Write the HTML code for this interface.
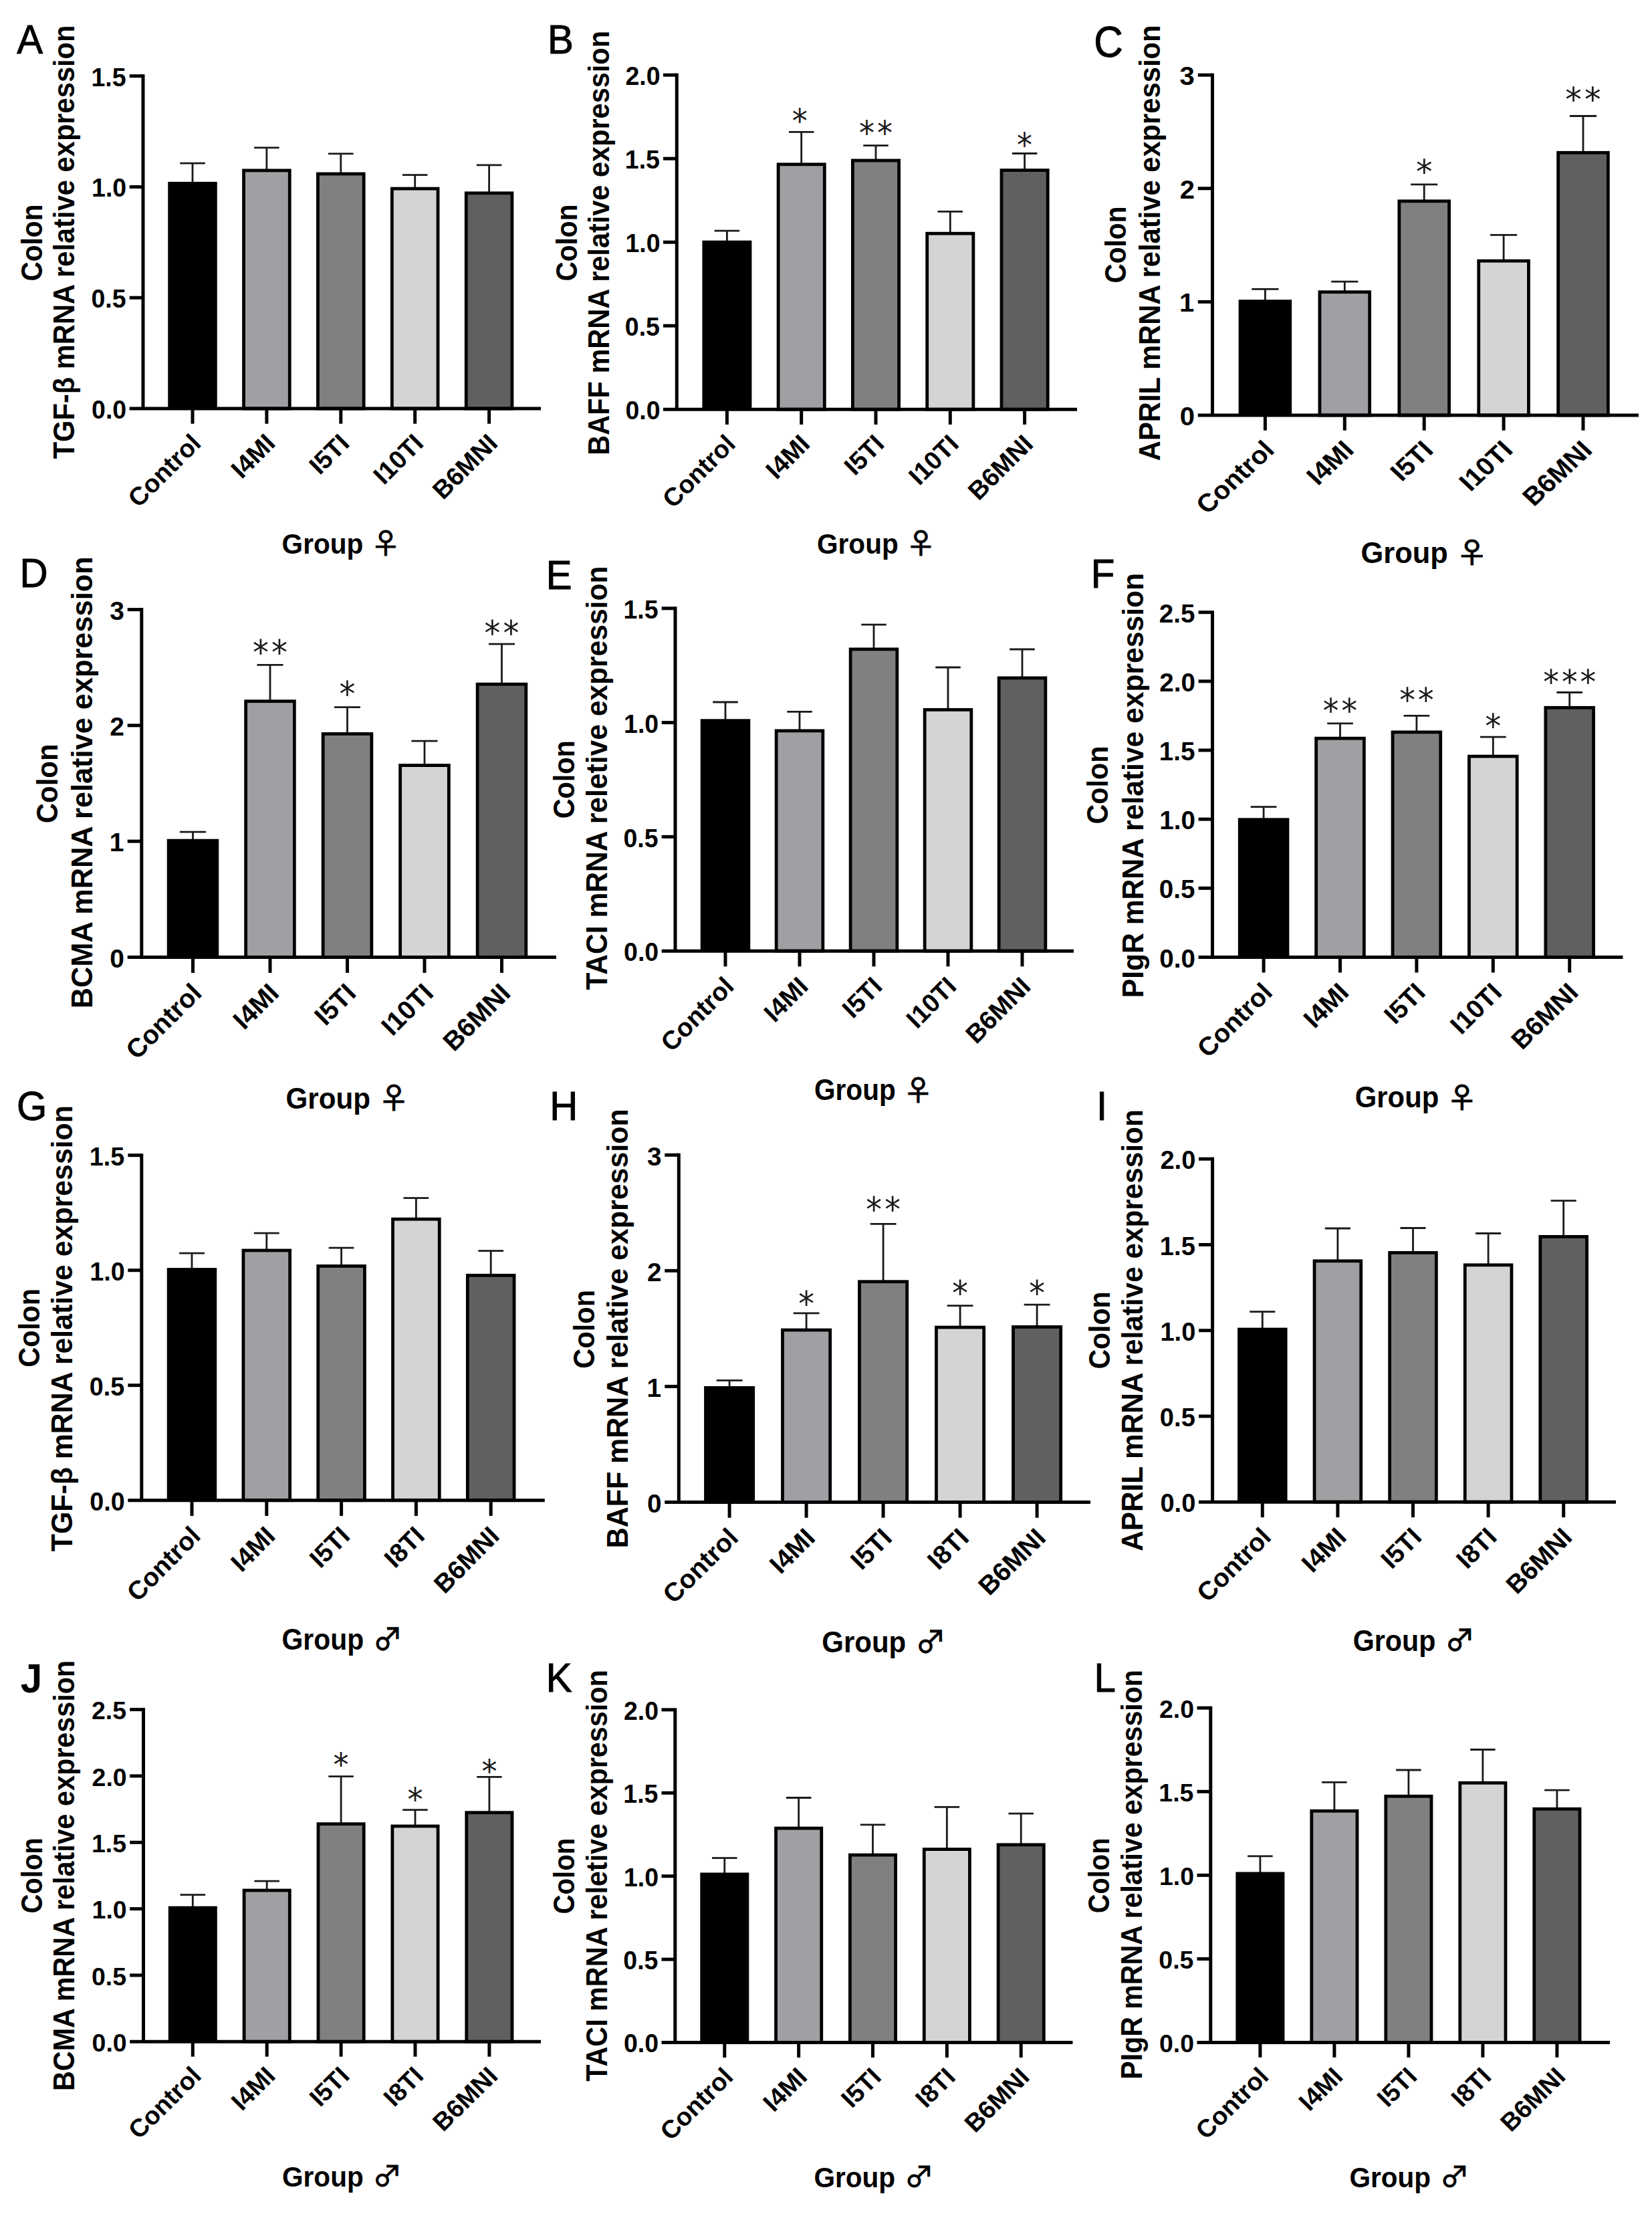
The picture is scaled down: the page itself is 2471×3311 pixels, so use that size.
<!DOCTYPE html>
<html><head><meta charset="utf-8"><title>Colon mRNA relative expression</title>
<style>
html,body{margin:0;padding:0;background:#fff}
svg{display:block}
text{font-family:"Liberation Sans",sans-serif;fill:#000}
.b{font-weight:700}
.lt{stroke:#000;stroke-width:1.6px}
.st{font-family:"DejaVu Sans",sans-serif;fill:#1a1a1a}
.sx{font-family:"Noto Sans CJK SC","Noto Sans CJK JP","DejaVu Sans",sans-serif;font-weight:400;stroke:#000;stroke-width:2.5px}
</style></head><body>
<svg width="2471" height="3311" viewBox="0 0 2471 3311">
<rect width="2471" height="3311" fill="#fff"/>
<g id="panel-A">
<path d="M288 273.9V244.2M269.25 244.2H306.75" stroke="#1a1a1a" stroke-width="2.8" fill="none"/>
<rect x="251.25" y="271.9" width="73.5" height="339.1" fill="#000"/>
<path d="M288 611V633.7" stroke="#000" stroke-width="5"/>
<text class="b" font-size="100" transform="matrix(0.2687 -0.2687 0.2687 0.2687 207.36 760.64)">Control</text>
<path d="M398.9 254.5V220.8M380.15 220.8H417.65" stroke="#1a1a1a" stroke-width="2.8" fill="none"/>
<rect x="364.55" y="254.9" width="68.7" height="356.1" fill="#a0a0a4" stroke="#000" stroke-width="4.8"/>
<path d="M398.9 611V633.7" stroke="#000" stroke-width="5"/>
<text class="b" font-size="100" transform="matrix(0.2687 -0.2687 0.2687 0.2687 361.52 717.38)">I4MI</text>
<path d="M509.8 259.6V229.8M491.05 229.8H528.55" stroke="#1a1a1a" stroke-width="2.8" fill="none"/>
<rect x="475.45" y="260" width="68.7" height="351" fill="#808080" stroke="#000" stroke-width="4.8"/>
<path d="M509.8 611V633.7" stroke="#000" stroke-width="5"/>
<text class="b" font-size="100" transform="matrix(0.2687 -0.2687 0.2687 0.2687 478.33 711.47)">I5TI</text>
<path d="M620.7 281.7V261.6M601.95 261.6H639.45" stroke="#1a1a1a" stroke-width="2.8" fill="none"/>
<rect x="586.35" y="282.1" width="68.7" height="328.9" fill="#d4d4d4" stroke="#000" stroke-width="4.8"/>
<path d="M620.7 611V633.7" stroke="#000" stroke-width="5"/>
<text class="b" font-size="100" transform="matrix(0.2687 -0.2687 0.2687 0.2687 574.32 726.38)">I10TI</text>
<path d="M731.6 288.4V246.9M712.85 246.9H750.35" stroke="#1a1a1a" stroke-width="2.8" fill="none"/>
<rect x="697.25" y="288.8" width="68.7" height="322.2" fill="#606060" stroke="#000" stroke-width="4.8"/>
<path d="M731.6 611V633.7" stroke="#000" stroke-width="5"/>
<text class="b" font-size="100" transform="matrix(0.2687 -0.2687 0.2687 0.2687 662.78 748.82)">B6MNI</text>
<path d="M214 111.2V611M193.7 611H809" stroke="#000" stroke-width="5" fill="none"/>
<path d="M193.7 113.7H214" stroke="#000" stroke-width="5"/>
<text class="b" font-size="100" transform="matrix(0.3750 0 0 0.3825 136.51 128.59)">1.5</text>
<path d="M193.7 279.47H214" stroke="#000" stroke-width="5"/>
<text class="b" font-size="100" transform="matrix(0.3750 0 0 0.3825 137.07 294.35)">1.0</text>
<path d="M193.7 445.23H214" stroke="#000" stroke-width="5"/>
<text class="b" font-size="100" transform="matrix(0.3750 0 0 0.3825 136.51 460.12)">0.5</text>
<text class="b" font-size="100" transform="matrix(0.3750 0 0 0.3825 137.07 625.89)">0.0</text>
<text class="b" font-size="100" transform="matrix(0 -0.4059 0.4372 0 63.3 420.52)">Colon</text>
<text class="b" font-size="100" transform="matrix(0 -0.4167 0.4372 0 111.4 686.32)">TGF-β mRNA relative expression</text>
<text class="b" font-size="100" transform="matrix(0.4060 0 0 0.4344 421.58 828.1)">Group</text>
<text class="sx" font-size="100" transform="matrix(0.4531 0 0 0.4157 554.34 828.3)">♀</text>
<text class="lt" font-size="100" transform="matrix(0.5828 0 0 0.6200 25.3 80.1)">A</text>
</g>
<g id="panel-B">
<path d="M1087.4 361.7V345.2M1068.65 345.2H1106.15" stroke="#1a1a1a" stroke-width="2.8" fill="none"/>
<rect x="1050.4" y="359.7" width="74" height="252.5" fill="#000"/>
<path d="M1087.4 612.2V634.9" stroke="#000" stroke-width="5"/>
<text class="b" font-size="100" transform="matrix(0.2687 -0.2687 0.2687 0.2687 1006.76 761.84)">Control</text>
<path d="M1198.7 245.4V197.3M1179.95 197.3H1217.45" stroke="#1a1a1a" stroke-width="2.8" fill="none"/>
<rect x="1164.1" y="245.8" width="69.2" height="366.4" fill="#a0a0a4" stroke="#000" stroke-width="4.8"/>
<path d="M1198.7 612.2V634.9" stroke="#000" stroke-width="5"/>
<text class="b" font-size="100" transform="matrix(0.2687 -0.2687 0.2687 0.2687 1161.32 718.58)">I4MI</text>
<path d="M1310 239.6V217.6M1291.25 217.6H1328.75" stroke="#1a1a1a" stroke-width="2.8" fill="none"/>
<rect x="1275.4" y="240" width="69.2" height="372.2" fill="#808080" stroke="#000" stroke-width="4.8"/>
<path d="M1310 612.2V634.9" stroke="#000" stroke-width="5"/>
<text class="b" font-size="100" transform="matrix(0.2687 -0.2687 0.2687 0.2687 1278.53 712.67)">I5TI</text>
<path d="M1421.3 348.8V316.3M1402.55 316.3H1440.05" stroke="#1a1a1a" stroke-width="2.8" fill="none"/>
<rect x="1386.7" y="349.2" width="69.2" height="263" fill="#d4d4d4" stroke="#000" stroke-width="4.8"/>
<path d="M1421.3 612.2V634.9" stroke="#000" stroke-width="5"/>
<text class="b" font-size="100" transform="matrix(0.2687 -0.2687 0.2687 0.2687 1374.92 727.58)">I10TI</text>
<path d="M1532.6 254.2V229.5M1513.85 229.5H1551.35" stroke="#1a1a1a" stroke-width="2.8" fill="none"/>
<rect x="1498" y="254.6" width="69.2" height="357.6" fill="#606060" stroke="#000" stroke-width="4.8"/>
<path d="M1532.6 612.2V634.9" stroke="#000" stroke-width="5"/>
<text class="b" font-size="100" transform="matrix(0.2687 -0.2687 0.2687 0.2687 1463.78 750.02)">B6MNI</text>
<path d="M1012.3 109.7V612.2M992 612.2H1611" stroke="#000" stroke-width="5" fill="none"/>
<path d="M992 112.2H1012.3" stroke="#000" stroke-width="5"/>
<text class="b" font-size="100" transform="matrix(0.3750 0 0 0.3825 935.38 127.09)">2.0</text>
<path d="M992 237.2H1012.3" stroke="#000" stroke-width="5"/>
<text class="b" font-size="100" transform="matrix(0.3750 0 0 0.3825 934.81 252.09)">1.5</text>
<path d="M992 362.2H1012.3" stroke="#000" stroke-width="5"/>
<text class="b" font-size="100" transform="matrix(0.3750 0 0 0.3825 935.38 377.09)">1.0</text>
<path d="M992 487.2H1012.3" stroke="#000" stroke-width="5"/>
<text class="b" font-size="100" transform="matrix(0.3750 0 0 0.3825 934.81 502.09)">0.5</text>
<text class="b" font-size="100" transform="matrix(0.3750 0 0 0.3825 935.38 627.09)">0.0</text>
<text class="st" font-size="100" transform="matrix(0.4591 0 0 0.4957 1184.72 198.38)">*</text>
<text class="st" font-size="100" transform="matrix(0.4591 0 0 0.4957 1285.07 216.18)">*</text>
<text class="st" font-size="100" transform="matrix(0.4591 0 0 0.4957 1311.97 216.18)">*</text>
<text class="st" font-size="100" transform="matrix(0.4591 0 0 0.4957 1521.12 233.78)">*</text>
<text class="b" font-size="100" transform="matrix(0 -0.4059 0.4372 0 863.3 420.52)">Colon</text>
<text class="b" font-size="100" transform="matrix(0 -0.4149 0.4372 0 911.4 680.7)">BAFF mRNA relative expression</text>
<text class="b" font-size="100" transform="matrix(0.4060 0 0 0.4344 1221.98 828.1)">Group</text>
<text class="sx" font-size="100" transform="matrix(0.4531 0 0 0.4157 1354.74 828.3)">♀</text>
<text class="lt" font-size="100" transform="matrix(0.5828 0 0 0.6200 819.04 80.1)">B</text>
</g>
<g id="panel-C">
<path d="M1892.4 450.2V432.3M1872.34 432.3H1912.46" stroke="#1a1a1a" stroke-width="2.8" fill="none"/>
<rect x="1852.65" y="448.2" width="79.5" height="172.8" fill="#000"/>
<path d="M1892.4 621V643.7" stroke="#000" stroke-width="5"/>
<text class="b" font-size="100" transform="matrix(0.2875 -0.2687 0.2875 0.2687 1806.11 770.64)">Control</text>
<path d="M2011.3 436.3V421.1M1991.24 421.1H2031.36" stroke="#1a1a1a" stroke-width="2.8" fill="none"/>
<rect x="1973.95" y="436.7" width="74.7" height="184.3" fill="#a0a0a4" stroke="#000" stroke-width="4.8"/>
<path d="M2011.3 621V643.7" stroke="#000" stroke-width="5"/>
<text class="b" font-size="100" transform="matrix(0.2875 -0.2687 0.2875 0.2687 1971.3 727.38)">I4MI</text>
<path d="M2130.2 300.4V275.9M2110.14 275.9H2150.26" stroke="#1a1a1a" stroke-width="2.8" fill="none"/>
<rect x="2092.85" y="300.8" width="74.7" height="320.2" fill="#808080" stroke="#000" stroke-width="4.8"/>
<path d="M2130.2 621V643.7" stroke="#000" stroke-width="5"/>
<text class="b" font-size="100" transform="matrix(0.2875 -0.2687 0.2875 0.2687 2096.53 721.47)">I5TI</text>
<path d="M2249.1 389.8V351.4M2229.04 351.4H2269.16" stroke="#1a1a1a" stroke-width="2.8" fill="none"/>
<rect x="2211.75" y="390.2" width="74.7" height="230.8" fill="#d4d4d4" stroke="#000" stroke-width="4.8"/>
<path d="M2249.1 621V643.7" stroke="#000" stroke-width="5"/>
<text class="b" font-size="100" transform="matrix(0.2875 -0.2687 0.2875 0.2687 2199.47 736.38)">I10TI</text>
<path d="M2368 227.9V173.5M2347.94 173.5H2388.06" stroke="#1a1a1a" stroke-width="2.8" fill="none"/>
<rect x="2330.65" y="228.3" width="74.7" height="392.7" fill="#606060" stroke="#000" stroke-width="4.8"/>
<path d="M2368 621V643.7" stroke="#000" stroke-width="5"/>
<text class="b" font-size="100" transform="matrix(0.2875 -0.2687 0.2875 0.2687 2294.36 758.82)">B6MNI</text>
<path d="M1813.5 109.7V621M1791.78 621H2451" stroke="#000" stroke-width="5" fill="none"/>
<path d="M1791.78 112.2H1813.5" stroke="#000" stroke-width="5"/>
<text class="b" font-size="100" transform="matrix(0.4012 0 0 0.3825 1764.49 127.09)">3</text>
<path d="M1791.78 281.8H1813.5" stroke="#000" stroke-width="5"/>
<text class="b" font-size="100" transform="matrix(0.4012 0 0 0.3825 1764.69 296.69)">2</text>
<path d="M1791.78 451.4H1813.5" stroke="#000" stroke-width="5"/>
<text class="b" font-size="100" transform="matrix(0.4012 0 0 0.3825 1764.09 466.29)">1</text>
<text class="b" font-size="100" transform="matrix(0.4012 0 0 0.3825 1764.69 635.89)">0</text>
<text class="st" font-size="100" transform="matrix(0.4912 0 0 0.4957 2117.92 274.28)">*</text>
<text class="st" font-size="100" transform="matrix(0.4912 0 0 0.4957 2341.33 166.28)">*</text>
<text class="st" font-size="100" transform="matrix(0.4912 0 0 0.4957 2370.11 166.28)">*</text>
<text class="b" font-size="100" transform="matrix(0 -0.4059 0.4483 0 1683.5 423.52)">Colon</text>
<text class="b" font-size="100" transform="matrix(0 -0.4175 0.4483 0 1735.1 689.14)">APRIL mRNA relative expression</text>
<text class="b" font-size="100" transform="matrix(0.4344 0 0 0.4344 2035.46 842.1)">Group</text>
<text class="sx" font-size="100" transform="matrix(0.4848 0 0 0.4157 2177.52 842.3)">♀</text>
<text class="lt" font-size="100" transform="matrix(0.6016 0 0 0.6400 1636.19 84.8)">C</text>
</g>
<g id="panel-D">
<path d="M288.5 1256.7V1244.2M269 1244.2H308" stroke="#1a1a1a" stroke-width="2.8" fill="none"/>
<rect x="249.75" y="1254.7" width="77.5" height="176.7" fill="#000"/>
<path d="M288.5 1431.4V1454.89" stroke="#000" stroke-width="5"/>
<text class="b" font-size="100" transform="matrix(0.2794 -0.2781 0.2794 0.2781 204.63 1586.28)">Control</text>
<path d="M404 1048.3V994.4M384.5 994.4H423.5" stroke="#1a1a1a" stroke-width="2.8" fill="none"/>
<rect x="367.65" y="1048.7" width="72.7" height="382.7" fill="#a0a0a4" stroke="#000" stroke-width="4.8"/>
<path d="M404 1431.4V1454.89" stroke="#000" stroke-width="5"/>
<text class="b" font-size="100" transform="matrix(0.2794 -0.2781 0.2794 0.2781 365.12 1541.5)">I4MI</text>
<path d="M519.5 1097.1V1057.6M500 1057.6H539" stroke="#1a1a1a" stroke-width="2.8" fill="none"/>
<rect x="483.15" y="1097.5" width="72.7" height="333.9" fill="#808080" stroke="#000" stroke-width="4.8"/>
<path d="M519.5 1431.4V1454.89" stroke="#000" stroke-width="5"/>
<text class="b" font-size="100" transform="matrix(0.2794 -0.2781 0.2794 0.2781 486.77 1535.39)">I5TI</text>
<path d="M635 1144.2V1108.1M615.5 1108.1H654.5" stroke="#1a1a1a" stroke-width="2.8" fill="none"/>
<rect x="598.65" y="1144.6" width="72.7" height="286.8" fill="#d4d4d4" stroke="#000" stroke-width="4.8"/>
<path d="M635 1431.4V1454.89" stroke="#000" stroke-width="5"/>
<text class="b" font-size="100" transform="matrix(0.2794 -0.2781 0.2794 0.2781 586.76 1550.82)">I10TI</text>
<path d="M750.5 1022.8V963.1M731 963.1H770" stroke="#1a1a1a" stroke-width="2.8" fill="none"/>
<rect x="714.15" y="1023.2" width="72.7" height="408.2" fill="#606060" stroke="#000" stroke-width="4.8"/>
<path d="M750.5 1431.4V1454.89" stroke="#000" stroke-width="5"/>
<text class="b" font-size="100" transform="matrix(0.2794 -0.2781 0.2794 0.2781 678.93 1574.04)">B6MNI</text>
<path d="M211.8 909.1V1431.4M190.69 1431.4H832" stroke="#000" stroke-width="5" fill="none"/>
<path d="M190.69 911.6H211.8" stroke="#000" stroke-width="5"/>
<text class="b" font-size="100" transform="matrix(0.3900 0 0 0.3959 164.17 926.96)">3</text>
<path d="M190.69 1084.87H211.8" stroke="#000" stroke-width="5"/>
<text class="b" font-size="100" transform="matrix(0.3900 0 0 0.3959 164.36 1100.22)">2</text>
<path d="M190.69 1258.13H211.8" stroke="#000" stroke-width="5"/>
<text class="b" font-size="100" transform="matrix(0.3900 0 0 0.3959 163.78 1273.49)">1</text>
<text class="b" font-size="100" transform="matrix(0.3900 0 0 0.3959 164.36 1446.76)">0</text>
<text class="st" font-size="100" transform="matrix(0.4775 0 0 0.5130 378.08 994.36)">*</text>
<text class="st" font-size="100" transform="matrix(0.4775 0 0 0.5130 406.05 994.36)">*</text>
<text class="st" font-size="100" transform="matrix(0.4775 0 0 0.5130 507.56 1055.76)">*</text>
<text class="st" font-size="100" transform="matrix(0.4775 0 0 0.5130 724.58 964.86)">*</text>
<text class="st" font-size="100" transform="matrix(0.4775 0 0 0.5130 752.55 964.86)">*</text>
<text class="b" font-size="100" transform="matrix(0 -0.4201 0.4372 0 86.1 1231.32)">Colon</text>
<text class="b" font-size="100" transform="matrix(0 -0.4335 0.4372 0 138.4 1508.22)">BCMA mRNA relative expression</text>
<text class="b" font-size="100" transform="matrix(0.4222 0 0 0.4496 427.41 1657.7)">Group</text>
<text class="sx" font-size="100" transform="matrix(0.4713 0 0 0.4303 565.49 1657.9)">♀</text>
<text class="lt" font-size="100" transform="matrix(0.5828 0 0 0.6200 29.54 877.5)">D</text>
</g>
<g id="panel-E">
<path d="M1085 1077.3V1050M1066.25 1050H1103.75" stroke="#1a1a1a" stroke-width="2.8" fill="none"/>
<rect x="1047.75" y="1075.3" width="74.5" height="346.9" fill="#000"/>
<path d="M1085 1422.2V1445.35" stroke="#000" stroke-width="5"/>
<text class="b" font-size="100" transform="matrix(0.2687 -0.2741 0.2687 0.2741 1004.36 1574.83)">Control</text>
<path d="M1196 1092.5V1064.4M1177.25 1064.4H1214.75" stroke="#1a1a1a" stroke-width="2.8" fill="none"/>
<rect x="1161.15" y="1092.9" width="69.7" height="329.3" fill="#a0a0a4" stroke="#000" stroke-width="4.8"/>
<path d="M1196 1422.2V1445.35" stroke="#000" stroke-width="5"/>
<text class="b" font-size="100" transform="matrix(0.2687 -0.2741 0.2687 0.2741 1158.62 1530.71)">I4MI</text>
<path d="M1307 970.5V934.2M1288.25 934.2H1325.75" stroke="#1a1a1a" stroke-width="2.8" fill="none"/>
<rect x="1272.15" y="970.9" width="69.7" height="451.3" fill="#808080" stroke="#000" stroke-width="4.8"/>
<path d="M1307 1422.2V1445.35" stroke="#000" stroke-width="5"/>
<text class="b" font-size="100" transform="matrix(0.2687 -0.2741 0.2687 0.2741 1275.53 1524.68)">I5TI</text>
<path d="M1418 1061V998M1399.25 998H1436.75" stroke="#1a1a1a" stroke-width="2.8" fill="none"/>
<rect x="1383.15" y="1061.4" width="69.7" height="360.8" fill="#d4d4d4" stroke="#000" stroke-width="4.8"/>
<path d="M1418 1422.2V1445.35" stroke="#000" stroke-width="5"/>
<text class="b" font-size="100" transform="matrix(0.2687 -0.2741 0.2687 0.2741 1371.62 1539.89)">I10TI</text>
<path d="M1529 1013.5V971M1510.25 971H1547.75" stroke="#1a1a1a" stroke-width="2.8" fill="none"/>
<rect x="1494.15" y="1013.9" width="69.7" height="408.3" fill="#606060" stroke="#000" stroke-width="4.8"/>
<path d="M1529 1422.2V1445.35" stroke="#000" stroke-width="5"/>
<text class="b" font-size="100" transform="matrix(0.2687 -0.2741 0.2687 0.2741 1460.18 1562.78)">B6MNI</text>
<path d="M1010 907.3V1422.2M989.7 1422.2H1606" stroke="#000" stroke-width="5" fill="none"/>
<path d="M989.7 909.8H1010" stroke="#000" stroke-width="5"/>
<text class="b" font-size="100" transform="matrix(0.3750 0 0 0.3901 932.51 924.96)">1.5</text>
<path d="M989.7 1080.6H1010" stroke="#000" stroke-width="5"/>
<text class="b" font-size="100" transform="matrix(0.3750 0 0 0.3901 933.08 1095.76)">1.0</text>
<path d="M989.7 1251.4H1010" stroke="#000" stroke-width="5"/>
<text class="b" font-size="100" transform="matrix(0.3750 0 0 0.3901 932.51 1266.56)">0.5</text>
<text class="b" font-size="100" transform="matrix(0.3750 0 0 0.3901 933.08 1437.36)">0.0</text>
<text class="b" font-size="100" transform="matrix(0 -0.4140 0.4372 0 858.5 1224.36)">Colon</text>
<text class="b" font-size="100" transform="matrix(0 -0.4258 0.4372 0 908.2 1480.53)">TACI mRNA reletive expression</text>
<text class="b" font-size="100" transform="matrix(0.4060 0 0 0.4431 1217.98 1645.4)">Group</text>
<text class="sx" font-size="100" transform="matrix(0.4531 0 0 0.4240 1350.74 1645.6)">♀</text>
<text class="lt" font-size="100" transform="matrix(0.5828 0 0 0.6200 816.84 880.6)">E</text>
</g>
<g id="panel-F">
<path d="M1890.1 1225.3V1206.6M1870.79 1206.6H1909.41" stroke="#1a1a1a" stroke-width="2.8" fill="none"/>
<rect x="1851.85" y="1223.3" width="76.5" height="208.1" fill="#000"/>
<path d="M1890.1 1431.4V1454.46" stroke="#000" stroke-width="5"/>
<text class="b" font-size="100" transform="matrix(0.2768 -0.2730 0.2768 0.2730 1807.04 1583.44)">Control</text>
<path d="M2004.5 1103.8V1081.8M1985.19 1081.8H2023.81" stroke="#1a1a1a" stroke-width="2.8" fill="none"/>
<rect x="1968.65" y="1104.2" width="71.7" height="327.2" fill="#a0a0a4" stroke="#000" stroke-width="4.8"/>
<path d="M2004.5 1431.4V1454.46" stroke="#000" stroke-width="5"/>
<text class="b" font-size="100" transform="matrix(0.2768 -0.2730 0.2768 0.2730 1966 1539.48)">I4MI</text>
<path d="M2118.9 1094.5V1070.4M2099.59 1070.4H2138.21" stroke="#1a1a1a" stroke-width="2.8" fill="none"/>
<rect x="2083.05" y="1094.9" width="71.7" height="336.5" fill="#808080" stroke="#000" stroke-width="4.8"/>
<path d="M2118.9 1431.4V1454.46" stroke="#000" stroke-width="5"/>
<text class="b" font-size="100" transform="matrix(0.2768 -0.2730 0.2768 0.2730 2086.49 1533.48)">I5TI</text>
<path d="M2233.3 1130.7V1102.2M2213.99 1102.2H2252.61" stroke="#1a1a1a" stroke-width="2.8" fill="none"/>
<rect x="2197.45" y="1131.1" width="71.7" height="300.3" fill="#d4d4d4" stroke="#000" stroke-width="4.8"/>
<path d="M2233.3 1431.4V1454.46" stroke="#000" stroke-width="5"/>
<text class="b" font-size="100" transform="matrix(0.2768 -0.2730 0.2768 0.2730 2185.53 1548.63)">I10TI</text>
<path d="M2347.7 1057.9V1035.5M2328.39 1035.5H2367.01" stroke="#1a1a1a" stroke-width="2.8" fill="none"/>
<rect x="2311.85" y="1058.3" width="71.7" height="373.1" fill="#606060" stroke="#000" stroke-width="4.8"/>
<path d="M2347.7 1431.4V1454.46" stroke="#000" stroke-width="5"/>
<text class="b" font-size="100" transform="matrix(0.2768 -0.2730 0.2768 0.2730 2276.82 1571.42)">B6MNI</text>
<path d="M1813.5 913.2V1431.4M1792.59 1431.4H2427.5" stroke="#000" stroke-width="5" fill="none"/>
<path d="M1792.59 915.7H1813.5" stroke="#000" stroke-width="5"/>
<text class="b" font-size="100" transform="matrix(0.3862 0 0 0.3886 1733.69 930.8)">2.5</text>
<path d="M1792.59 1018.84H1813.5" stroke="#000" stroke-width="5"/>
<text class="b" font-size="100" transform="matrix(0.3862 0 0 0.3886 1734.27 1033.94)">2.0</text>
<path d="M1792.59 1121.98H1813.5" stroke="#000" stroke-width="5"/>
<text class="b" font-size="100" transform="matrix(0.3862 0 0 0.3886 1733.69 1137.08)">1.5</text>
<path d="M1792.59 1225.12H1813.5" stroke="#000" stroke-width="5"/>
<text class="b" font-size="100" transform="matrix(0.3862 0 0 0.3886 1734.27 1240.22)">1.0</text>
<path d="M1792.59 1328.26H1813.5" stroke="#000" stroke-width="5"/>
<text class="b" font-size="100" transform="matrix(0.3862 0 0 0.3886 1733.69 1343.36)">0.5</text>
<text class="b" font-size="100" transform="matrix(0.3862 0 0 0.3886 1734.27 1446.5)">0.0</text>
<text class="st" font-size="100" transform="matrix(0.4729 0 0 0.5036 1978.82 1080.48)">*</text>
<text class="st" font-size="100" transform="matrix(0.4729 0 0 0.5036 2006.53 1080.48)">*</text>
<text class="st" font-size="100" transform="matrix(0.4729 0 0 0.5036 2093.22 1064.18)">*</text>
<text class="st" font-size="100" transform="matrix(0.4729 0 0 0.5036 2120.93 1064.18)">*</text>
<text class="st" font-size="100" transform="matrix(0.4729 0 0 0.5036 2221.48 1103.38)">*</text>
<text class="st" font-size="100" transform="matrix(0.4729 0 0 0.5036 2308.17 1037.28)">*</text>
<text class="st" font-size="100" transform="matrix(0.4729 0 0 0.5036 2335.88 1037.28)">*</text>
<text class="st" font-size="100" transform="matrix(0.4729 0 0 0.5036 2363.59 1037.28)">*</text>
<text class="b" font-size="100" transform="matrix(0 -0.4124 0.4372 0 1657 1232.44)">Colon</text>
<text class="b" font-size="100" transform="matrix(0 -0.4260 0.4372 0 1709.7 1492.17)">PIgR mRNA relative expression</text>
<text class="b" font-size="100" transform="matrix(0.4182 0 0 0.4414 2026.83 1656.3)">Group</text>
<text class="sx" font-size="100" transform="matrix(0.4667 0 0 0.4224 2163.58 1656.5)">♀</text>
<text class="lt" font-size="100" transform="matrix(0.5828 0 0 0.6200 1631.84 879)">F</text>
</g>
<g id="panel-G">
<path d="M287 1898.1V1874.2M268.12 1874.2H305.88" stroke="#1a1a1a" stroke-width="2.8" fill="none"/>
<rect x="249.75" y="1896.1" width="74.5" height="347.6" fill="#000"/>
<path d="M287 2243.7V2266.99" stroke="#000" stroke-width="5"/>
<text class="b" font-size="100" transform="matrix(0.2706 -0.2757 0.2706 0.2757 205.79 2397.23)">Control</text>
<path d="M398.8 1869.6V1844.1M379.92 1844.1H417.68" stroke="#1a1a1a" stroke-width="2.8" fill="none"/>
<rect x="363.95" y="1870" width="69.7" height="373.7" fill="#a0a0a4" stroke="#000" stroke-width="4.8"/>
<path d="M398.8 2243.7V2266.99" stroke="#000" stroke-width="5"/>
<text class="b" font-size="100" transform="matrix(0.2706 -0.2757 0.2706 0.2757 361.16 2352.85)">I4MI</text>
<path d="M510.6 1893V1866.1M491.72 1866.1H529.48" stroke="#1a1a1a" stroke-width="2.8" fill="none"/>
<rect x="475.75" y="1893.4" width="69.7" height="350.3" fill="#808080" stroke="#000" stroke-width="4.8"/>
<path d="M510.6 2243.7V2266.99" stroke="#000" stroke-width="5"/>
<text class="b" font-size="100" transform="matrix(0.2706 -0.2757 0.2706 0.2757 478.91 2346.78)">I5TI</text>
<path d="M622.4 1822.8V1791.6M603.52 1791.6H641.28" stroke="#1a1a1a" stroke-width="2.8" fill="none"/>
<rect x="587.55" y="1823.2" width="69.7" height="420.5" fill="#d4d4d4" stroke="#000" stroke-width="4.8"/>
<path d="M622.4 2243.7V2266.99" stroke="#000" stroke-width="5"/>
<text class="b" font-size="100" transform="matrix(0.2706 -0.2757 0.2706 0.2757 590.71 2346.78)">I8TI</text>
<path d="M734.2 1906.9V1870.6M715.32 1870.6H753.08" stroke="#1a1a1a" stroke-width="2.8" fill="none"/>
<rect x="699.35" y="1907.3" width="69.7" height="336.4" fill="#606060" stroke="#000" stroke-width="4.8"/>
<path d="M734.2 2243.7V2266.99" stroke="#000" stroke-width="5"/>
<text class="b" font-size="100" transform="matrix(0.2706 -0.2757 0.2706 0.2757 664.9 2385.1)">B6MNI</text>
<path d="M211.8 1725.2V2243.7M191.36 2243.7H814.8" stroke="#000" stroke-width="5" fill="none"/>
<path d="M191.36 1727.7H211.8" stroke="#000" stroke-width="5"/>
<text class="b" font-size="100" transform="matrix(0.3776 0 0 0.3924 133.77 1742.94)">1.5</text>
<path d="M191.36 1899.7H211.8" stroke="#000" stroke-width="5"/>
<text class="b" font-size="100" transform="matrix(0.3776 0 0 0.3924 134.34 1914.94)">1.0</text>
<path d="M191.36 2071.7H211.8" stroke="#000" stroke-width="5"/>
<text class="b" font-size="100" transform="matrix(0.3776 0 0 0.3924 133.77 2086.94)">0.5</text>
<text class="b" font-size="100" transform="matrix(0.3776 0 0 0.3924 134.34 2258.94)">0.0</text>
<text class="b" font-size="100" transform="matrix(0 -0.4164 0.4372 0 58.5 2044.71)">Colon</text>
<text class="b" font-size="100" transform="matrix(0 -0.4285 0.4372 0 107.6 2320.23)">TGF-β mRNA relative expression</text>
<text class="b" font-size="100" transform="matrix(0.4088 0 0 0.4457 421.56 2467.4)">Group</text>
<text class="sx" font-size="100" transform="matrix(0.4391 0 0 0.4528 558.02 2467.89)">♂</text>
<text class="lt" font-size="100" transform="matrix(0.5828 0 0 0.6200 24.89 1674.5)">G</text>
</g>
<g id="panel-H">
<path d="M1091.1 2075V2064.4M1071.69 2064.4H1110.51" stroke="#1a1a1a" stroke-width="2.8" fill="none"/>
<rect x="1053.1" y="2073" width="76" height="173.5" fill="#000"/>
<path d="M1091.1 2246.5V2269.77" stroke="#000" stroke-width="5"/>
<text class="b" font-size="100" transform="matrix(0.2781 -0.2754 0.2781 0.2754 1007.64 2399.88)">Control</text>
<path d="M1206.1 1988.6V1963.8M1186.69 1963.8H1225.51" stroke="#1a1a1a" stroke-width="2.8" fill="none"/>
<rect x="1170.5" y="1989" width="71.2" height="257.5" fill="#a0a0a4" stroke="#000" stroke-width="4.8"/>
<path d="M1206.1 2246.5V2269.77" stroke="#000" stroke-width="5"/>
<text class="b" font-size="100" transform="matrix(0.2781 -0.2754 0.2781 0.2754 1167.41 2355.54)">I4MI</text>
<path d="M1321.1 1916.3V1830.4M1301.69 1830.4H1340.51" stroke="#1a1a1a" stroke-width="2.8" fill="none"/>
<rect x="1285.5" y="1916.7" width="71.2" height="329.8" fill="#808080" stroke="#000" stroke-width="4.8"/>
<path d="M1321.1 2246.5V2269.77" stroke="#000" stroke-width="5"/>
<text class="b" font-size="100" transform="matrix(0.2781 -0.2754 0.2781 0.2754 1288.53 2349.48)">I5TI</text>
<path d="M1436.1 1984.6V1952.6M1416.69 1952.6H1455.51" stroke="#1a1a1a" stroke-width="2.8" fill="none"/>
<rect x="1400.5" y="1985" width="71.2" height="261.5" fill="#d4d4d4" stroke="#000" stroke-width="4.8"/>
<path d="M1436.1 2246.5V2269.77" stroke="#000" stroke-width="5"/>
<text class="b" font-size="100" transform="matrix(0.2781 -0.2754 0.2781 0.2754 1403.53 2349.48)">I8TI</text>
<path d="M1551.1 1984V1951.2M1531.69 1951.2H1570.51" stroke="#1a1a1a" stroke-width="2.8" fill="none"/>
<rect x="1515.5" y="1984.4" width="71.2" height="262.1" fill="#606060" stroke="#000" stroke-width="4.8"/>
<path d="M1551.1 2246.5V2269.77" stroke="#000" stroke-width="5"/>
<text class="b" font-size="100" transform="matrix(0.2781 -0.2754 0.2781 0.2754 1479.87 2387.76)">B6MNI</text>
<path d="M1015.3 1724.8V2246.5M994.29 2246.5H1631" stroke="#000" stroke-width="5" fill="none"/>
<path d="M994.29 1727.3H1015.3" stroke="#000" stroke-width="5"/>
<text class="b" font-size="100" transform="matrix(0.3881 0 0 0.3921 967.9 1742.52)">3</text>
<path d="M994.29 1900.37H1015.3" stroke="#000" stroke-width="5"/>
<text class="b" font-size="100" transform="matrix(0.3881 0 0 0.3921 968.09 1915.59)">2</text>
<path d="M994.29 2073.43H1015.3" stroke="#000" stroke-width="5"/>
<text class="b" font-size="100" transform="matrix(0.3881 0 0 0.3921 967.51 2088.66)">1</text>
<text class="b" font-size="100" transform="matrix(0.3881 0 0 0.3921 968.09 2261.72)">0</text>
<text class="st" font-size="100" transform="matrix(0.4752 0 0 0.5080 1194.22 1967.51)">*</text>
<text class="st" font-size="100" transform="matrix(0.4752 0 0 0.5080 1295.3 1827.11)">*</text>
<text class="st" font-size="100" transform="matrix(0.4752 0 0 0.5080 1323.14 1827.11)">*</text>
<text class="st" font-size="100" transform="matrix(0.4752 0 0 0.5080 1424.22 1951.51)">*</text>
<text class="st" font-size="100" transform="matrix(0.4752 0 0 0.5080 1539.22 1951.81)">*</text>
<text class="b" font-size="100" transform="matrix(0 -0.4160 0.4372 0 889.2 2046.65)">Colon</text>
<text class="b" font-size="100" transform="matrix(0 -0.4295 0.4372 0 939.2 2315.29)">BAFF mRNA relative expression</text>
<text class="b" font-size="100" transform="matrix(0.4202 0 0 0.4453 1229.22 2471.4)">Group</text>
<text class="sx" font-size="100" transform="matrix(0.4513 0 0 0.4524 1369.47 2471.89)">♂</text>
<text class="lt" font-size="100" transform="matrix(0.5828 0 0 0.6200 822.24 1675)">H</text>
</g>
<g id="panel-I">
<path d="M1888.3 1987.6V1961.7M1869.25 1961.7H1907.35" stroke="#1a1a1a" stroke-width="2.8" fill="none"/>
<rect x="1851.05" y="1985.6" width="74.5" height="260.6" fill="#000"/>
<path d="M1888.3 2246.2V2269.17" stroke="#000" stroke-width="5"/>
<text class="b" font-size="100" transform="matrix(0.2730 -0.2719 0.2730 0.2719 1806.37 2397.64)">Control</text>
<path d="M2000.9 1885.4V1837M1981.85 1837H2019.95" stroke="#1a1a1a" stroke-width="2.8" fill="none"/>
<rect x="1966.05" y="1885.8" width="69.7" height="360.4" fill="#a0a0a4" stroke="#000" stroke-width="4.8"/>
<path d="M2000.9 2246.2V2269.17" stroke="#000" stroke-width="5"/>
<text class="b" font-size="100" transform="matrix(0.2730 -0.2719 0.2730 0.2719 1962.92 2353.86)">I4MI</text>
<path d="M2113.5 1873V1836.5M2094.45 1836.5H2132.55" stroke="#1a1a1a" stroke-width="2.8" fill="none"/>
<rect x="2078.65" y="1873.4" width="69.7" height="372.8" fill="#808080" stroke="#000" stroke-width="4.8"/>
<path d="M2113.5 2246.2V2269.17" stroke="#000" stroke-width="5"/>
<text class="b" font-size="100" transform="matrix(0.2730 -0.2719 0.2730 0.2719 2081.53 2347.88)">I5TI</text>
<path d="M2226.1 1891.4V1844.5M2207.05 1844.5H2245.15" stroke="#1a1a1a" stroke-width="2.8" fill="none"/>
<rect x="2191.25" y="1891.8" width="69.7" height="354.4" fill="#d4d4d4" stroke="#000" stroke-width="4.8"/>
<path d="M2226.1 2246.2V2269.17" stroke="#000" stroke-width="5"/>
<text class="b" font-size="100" transform="matrix(0.2730 -0.2719 0.2730 0.2719 2194.13 2347.88)">I8TI</text>
<path d="M2338.7 1849V1795.6M2319.65 1795.6H2357.75" stroke="#1a1a1a" stroke-width="2.8" fill="none"/>
<rect x="2303.85" y="1849.4" width="69.7" height="396.8" fill="#606060" stroke="#000" stroke-width="4.8"/>
<path d="M2338.7 2246.2V2269.17" stroke="#000" stroke-width="5"/>
<text class="b" font-size="100" transform="matrix(0.2730 -0.2719 0.2730 0.2719 2268.78 2385.67)">B6MNI</text>
<path d="M1813.6 1730.7V2246.2M1792.98 2246.2H2417" stroke="#000" stroke-width="5" fill="none"/>
<path d="M1792.98 1733.2H1813.6" stroke="#000" stroke-width="5"/>
<text class="b" font-size="100" transform="matrix(0.3810 0 0 0.3871 1735.44 1748.25)">2.0</text>
<path d="M1792.98 1861.45H1813.6" stroke="#000" stroke-width="5"/>
<text class="b" font-size="100" transform="matrix(0.3810 0 0 0.3871 1734.87 1876.5)">1.5</text>
<path d="M1792.98 1989.7H1813.6" stroke="#000" stroke-width="5"/>
<text class="b" font-size="100" transform="matrix(0.3810 0 0 0.3871 1735.44 2004.75)">1.0</text>
<path d="M1792.98 2117.95H1813.6" stroke="#000" stroke-width="5"/>
<text class="b" font-size="100" transform="matrix(0.3810 0 0 0.3871 1734.87 2133)">0.5</text>
<text class="b" font-size="100" transform="matrix(0.3810 0 0 0.3871 1735.44 2261.25)">0.0</text>
<text class="b" font-size="100" transform="matrix(0 -0.4107 0.4372 0 1659.5 2047.61)">Colon</text>
<text class="b" font-size="100" transform="matrix(0 -0.4231 0.4372 0 1709.1 2319.86)">APRIL mRNA relative expression</text>
<text class="b" font-size="100" transform="matrix(0.4125 0 0 0.4396 2023.75 2468.5)">Group</text>
<text class="sx" font-size="100" transform="matrix(0.4430 0 0 0.4466 2161.43 2468.99)">♂</text>
<text class="lt" font-size="100" transform="matrix(0.5828 0 0 0.6200 1639.95 1674.5)">I</text>
</g>
<g id="panel-J">
<path d="M288.3 2852.7V2833.6M269.55 2833.6H307.05" stroke="#1a1a1a" stroke-width="2.8" fill="none"/>
<rect x="251.8" y="2850.7" width="73" height="202.6" fill="#000"/>
<path d="M288.3 3053.3V3075.68" stroke="#000" stroke-width="5"/>
<text class="b" font-size="100" transform="matrix(0.2687 -0.2649 0.2687 0.2649 207.66 3200.85)">Control</text>
<path d="M399.2 2826.6V2813.2M380.45 2813.2H417.95" stroke="#1a1a1a" stroke-width="2.8" fill="none"/>
<rect x="365.1" y="2827" width="68.2" height="226.3" fill="#a0a0a4" stroke="#000" stroke-width="4.8"/>
<path d="M399.2 3053.3V3075.68" stroke="#000" stroke-width="5"/>
<text class="b" font-size="100" transform="matrix(0.2687 -0.2649 0.2687 0.2649 361.82 3158.19)">I4MI</text>
<path d="M510.1 2727.3V2656.7M491.35 2656.7H528.85" stroke="#1a1a1a" stroke-width="2.8" fill="none"/>
<rect x="476" y="2727.7" width="68.2" height="325.6" fill="#808080" stroke="#000" stroke-width="4.8"/>
<path d="M510.1 3053.3V3075.68" stroke="#000" stroke-width="5"/>
<text class="b" font-size="100" transform="matrix(0.2687 -0.2649 0.2687 0.2649 478.63 3152.36)">I5TI</text>
<path d="M621 2730.6V2706.7M602.25 2706.7H639.75" stroke="#1a1a1a" stroke-width="2.8" fill="none"/>
<rect x="586.9" y="2731" width="68.2" height="322.3" fill="#d4d4d4" stroke="#000" stroke-width="4.8"/>
<path d="M621 3053.3V3075.68" stroke="#000" stroke-width="5"/>
<text class="b" font-size="100" transform="matrix(0.2687 -0.2649 0.2687 0.2649 589.53 3152.36)">I8TI</text>
<path d="M731.9 2710.3V2657.3M713.15 2657.3H750.65" stroke="#1a1a1a" stroke-width="2.8" fill="none"/>
<rect x="697.8" y="2710.7" width="68.2" height="342.6" fill="#606060" stroke="#000" stroke-width="4.8"/>
<path d="M731.9 3053.3V3075.68" stroke="#000" stroke-width="5"/>
<text class="b" font-size="100" transform="matrix(0.2687 -0.2649 0.2687 0.2649 663.08 3189.19)">B6MNI</text>
<path d="M214.5 2554.1V3053.3M194.2 3053.3H809" stroke="#000" stroke-width="5" fill="none"/>
<path d="M194.2 2556.6H214.5" stroke="#000" stroke-width="5"/>
<text class="b" font-size="100" transform="matrix(0.3750 0 0 0.3771 137.01 2571.3)">2.5</text>
<path d="M194.2 2655.94H214.5" stroke="#000" stroke-width="5"/>
<text class="b" font-size="100" transform="matrix(0.3750 0 0 0.3771 137.57 2670.64)">2.0</text>
<path d="M194.2 2755.28H214.5" stroke="#000" stroke-width="5"/>
<text class="b" font-size="100" transform="matrix(0.3750 0 0 0.3771 137.01 2769.98)">1.5</text>
<path d="M194.2 2854.62H214.5" stroke="#000" stroke-width="5"/>
<text class="b" font-size="100" transform="matrix(0.3750 0 0 0.3771 137.57 2869.32)">1.0</text>
<path d="M194.2 2953.96H214.5" stroke="#000" stroke-width="5"/>
<text class="b" font-size="100" transform="matrix(0.3750 0 0 0.3771 137.01 2968.66)">0.5</text>
<text class="b" font-size="100" transform="matrix(0.3750 0 0 0.3771 137.57 3068)">0.0</text>
<text class="st" font-size="100" transform="matrix(0.4591 0 0 0.4887 498.62 2656.42)">*</text>
<text class="st" font-size="100" transform="matrix(0.4591 0 0 0.4887 609.52 2707.92)">*</text>
<text class="st" font-size="100" transform="matrix(0.4591 0 0 0.4887 720.42 2666.42)">*</text>
<text class="b" font-size="100" transform="matrix(0 -0.4002 0.4372 0 62.6 2861.53)">Colon</text>
<text class="b" font-size="100" transform="matrix(0 -0.4131 0.4372 0 111.4 3126.99)">BCMA mRNA relative expression</text>
<text class="b" font-size="100" transform="matrix(0.4060 0 0 0.4283 421.98 3270)">Group</text>
<text class="sx" font-size="100" transform="matrix(0.4360 0 0 0.4352 557.49 3270.47)">♂</text>
<text class="b" font-size="100" transform="matrix(0.5828 0 0 0.6200 30.73 2530.5)">J</text>
</g>
<g id="panel-K">
<path d="M1083.8 2802.5V2778.6M1065.05 2778.6H1102.55" stroke="#1a1a1a" stroke-width="2.8" fill="none"/>
<rect x="1047.3" y="2800.5" width="73" height="254.1" fill="#000"/>
<path d="M1083.8 3054.6V3077.07" stroke="#000" stroke-width="5"/>
<text class="b" font-size="100" transform="matrix(0.2687 -0.2660 0.2687 0.2660 1003.16 3202.75)">Control</text>
<path d="M1194.65 2733.7V2688.5M1175.9 2688.5H1213.4" stroke="#1a1a1a" stroke-width="2.8" fill="none"/>
<rect x="1160.55" y="2734.1" width="68.2" height="320.5" fill="#a0a0a4" stroke="#000" stroke-width="4.8"/>
<path d="M1194.65 3054.6V3077.07" stroke="#000" stroke-width="5"/>
<text class="b" font-size="100" transform="matrix(0.2687 -0.2660 0.2687 0.2660 1157.27 3159.92)">I4MI</text>
<path d="M1305.5 2773.7V2728.8M1286.75 2728.8H1324.25" stroke="#1a1a1a" stroke-width="2.8" fill="none"/>
<rect x="1271.4" y="2774.1" width="68.2" height="280.5" fill="#808080" stroke="#000" stroke-width="4.8"/>
<path d="M1305.5 3054.6V3077.07" stroke="#000" stroke-width="5"/>
<text class="b" font-size="100" transform="matrix(0.2687 -0.2660 0.2687 0.2660 1274.03 3154.07)">I5TI</text>
<path d="M1416.35 2765.2V2702.4M1397.6 2702.4H1435.1" stroke="#1a1a1a" stroke-width="2.8" fill="none"/>
<rect x="1382.25" y="2765.6" width="68.2" height="289" fill="#d4d4d4" stroke="#000" stroke-width="4.8"/>
<path d="M1416.35 3054.6V3077.07" stroke="#000" stroke-width="5"/>
<text class="b" font-size="100" transform="matrix(0.2687 -0.2660 0.2687 0.2660 1384.88 3154.07)">I8TI</text>
<path d="M1527.2 2758.4V2712.1M1508.45 2712.1H1545.95" stroke="#1a1a1a" stroke-width="2.8" fill="none"/>
<rect x="1493.1" y="2758.8" width="68.2" height="295.8" fill="#606060" stroke="#000" stroke-width="4.8"/>
<path d="M1527.2 3054.6V3077.07" stroke="#000" stroke-width="5"/>
<text class="b" font-size="100" transform="matrix(0.2687 -0.2660 0.2687 0.2660 1458.38 3191.04)">B6MNI</text>
<path d="M1009.8 2554.4V3054.6M989.5 3054.6H1604.5" stroke="#000" stroke-width="5" fill="none"/>
<path d="M989.5 2556.9H1009.8" stroke="#000" stroke-width="5"/>
<text class="b" font-size="100" transform="matrix(0.3750 0 0 0.3787 932.88 2571.65)">2.0</text>
<path d="M989.5 2681.32H1009.8" stroke="#000" stroke-width="5"/>
<text class="b" font-size="100" transform="matrix(0.3750 0 0 0.3787 932.31 2696.08)">1.5</text>
<path d="M989.5 2805.75H1009.8" stroke="#000" stroke-width="5"/>
<text class="b" font-size="100" transform="matrix(0.3750 0 0 0.3787 932.88 2820.5)">1.0</text>
<path d="M989.5 2930.18H1009.8" stroke="#000" stroke-width="5"/>
<text class="b" font-size="100" transform="matrix(0.3750 0 0 0.3787 932.31 2944.93)">0.5</text>
<text class="b" font-size="100" transform="matrix(0.3750 0 0 0.3787 932.88 3069.35)">0.0</text>
<text class="b" font-size="100" transform="matrix(0 -0.4018 0.4372 0 858.5 2862.55)">Colon</text>
<text class="b" font-size="100" transform="matrix(0 -0.4134 0.4372 0 907.6 3112.71)">TACI mRNA reletive expression</text>
<text class="b" font-size="100" transform="matrix(0.4060 0 0 0.4301 1217.38 3270.6)">Group</text>
<text class="sx" font-size="100" transform="matrix(0.4360 0 0 0.4369 1352.89 3271.07)">♂</text>
<text class="lt" font-size="100" transform="matrix(0.5828 0 0 0.6200 816.84 2530.2)">K</text>
</g>
<g id="panel-L">
<path d="M1884.9 2801.5V2775.8M1866.15 2775.8H1903.65" stroke="#1a1a1a" stroke-width="2.8" fill="none"/>
<rect x="1848.4" y="2799.5" width="73" height="255.1" fill="#000"/>
<path d="M1884.9 3054.6V3076.85" stroke="#000" stroke-width="5"/>
<text class="b" font-size="100" transform="matrix(0.2687 -0.2633 0.2687 0.2633 1804.26 3201.25)">Control</text>
<path d="M1995.9 2707.9V2665.4M1977.15 2665.4H2014.65" stroke="#1a1a1a" stroke-width="2.8" fill="none"/>
<rect x="1961.8" y="2708.3" width="68.2" height="346.3" fill="#a0a0a4" stroke="#000" stroke-width="4.8"/>
<path d="M1995.9 3054.6V3076.85" stroke="#000" stroke-width="5"/>
<text class="b" font-size="100" transform="matrix(0.2687 -0.2633 0.2687 0.2633 1958.52 3158.85)">I4MI</text>
<path d="M2106.9 2685.9V2647M2088.15 2647H2125.65" stroke="#1a1a1a" stroke-width="2.8" fill="none"/>
<rect x="2072.8" y="2686.3" width="68.2" height="368.3" fill="#808080" stroke="#000" stroke-width="4.8"/>
<path d="M2106.9 3054.6V3076.85" stroke="#000" stroke-width="5"/>
<text class="b" font-size="100" transform="matrix(0.2687 -0.2633 0.2687 0.2633 2075.43 3153.06)">I5TI</text>
<path d="M2217.9 2665.9V2616.5M2199.15 2616.5H2236.65" stroke="#1a1a1a" stroke-width="2.8" fill="none"/>
<rect x="2183.8" y="2666.3" width="68.2" height="388.3" fill="#d4d4d4" stroke="#000" stroke-width="4.8"/>
<path d="M2217.9 3054.6V3076.85" stroke="#000" stroke-width="5"/>
<text class="b" font-size="100" transform="matrix(0.2687 -0.2633 0.2687 0.2633 2186.43 3153.06)">I8TI</text>
<path d="M2328.9 2704.9V2677.2M2310.15 2677.2H2347.65" stroke="#1a1a1a" stroke-width="2.8" fill="none"/>
<rect x="2294.8" y="2705.3" width="68.2" height="349.3" fill="#606060" stroke="#000" stroke-width="4.8"/>
<path d="M2328.9 3054.6V3076.85" stroke="#000" stroke-width="5"/>
<text class="b" font-size="100" transform="matrix(0.2687 -0.2633 0.2687 0.2633 2260.08 3189.66)">B6MNI</text>
<path d="M1810.8 2551.7V3054.6M1790.5 3054.6H2408" stroke="#000" stroke-width="5" fill="none"/>
<path d="M1790.5 2554.2H1810.8" stroke="#000" stroke-width="5"/>
<text class="b" font-size="100" transform="matrix(0.3750 0 0 0.3749 1733.88 2568.82)">2.0</text>
<path d="M1790.5 2679.3H1810.8" stroke="#000" stroke-width="5"/>
<text class="b" font-size="100" transform="matrix(0.3750 0 0 0.3749 1733.31 2693.92)">1.5</text>
<path d="M1790.5 2804.4H1810.8" stroke="#000" stroke-width="5"/>
<text class="b" font-size="100" transform="matrix(0.3750 0 0 0.3749 1733.88 2819.02)">1.0</text>
<path d="M1790.5 2929.5H1810.8" stroke="#000" stroke-width="5"/>
<text class="b" font-size="100" transform="matrix(0.3750 0 0 0.3749 1733.31 2944.12)">0.5</text>
<text class="b" font-size="100" transform="matrix(0.3750 0 0 0.3749 1733.88 3069.22)">0.0</text>
<text class="b" font-size="100" transform="matrix(0 -0.3977 0.4372 0 1658.5 2861.18)">Colon</text>
<text class="b" font-size="100" transform="matrix(0 -0.4109 0.4372 0 1707.6 3109.67)">PIgR mRNA relative expression</text>
<text class="b" font-size="100" transform="matrix(0.4060 0 0 0.4257 2018.38 3270.9)">Group</text>
<text class="sx" font-size="100" transform="matrix(0.4360 0 0 0.4325 2153.89 3271.37)">♂</text>
<text class="lt" font-size="100" transform="matrix(0.5828 0 0 0.6200 1636.44 2530.2)">L</text>
</g>
</svg></body></html>
